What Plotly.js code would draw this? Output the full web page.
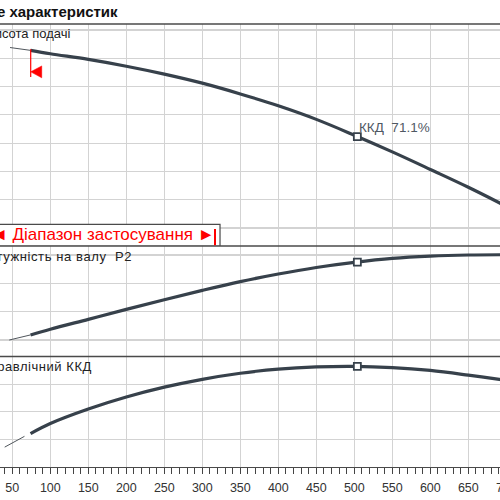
<!DOCTYPE html>
<html>
<head>
<meta charset="utf-8">
<script src="https://cdn.plot.ly/plotly-3.0.1.min.js"></script>
<style>
  html, body { margin: 0; padding: 0; width: 500px; height: 500px; overflow: hidden; background: #fff; }
  /* the reference is a crop of a wider sheet: the chart is drawn a bit wider
     than the window and the window clips it on both sides */
  #chart { position: absolute; left: -60px; top: 0; width: 600px; height: 500px; }
</style>
</head>
<body>
<div id="chart"></div>
<script>
// Pump curve sheet (head / shaft power / hydraulic efficiency vs flow).
// Values.
const flowQ = [74, 100, 150, 200, 250, 300, 350, 400, 450, 500, 550, 600, 650, 700, 720];
const headH = [36.4, 35.8, 34.8, 33.6, 32.2, 30.6, 28.7, 26.6, 24.2, 21.4, 18.45, 15.35, 12.2, 8.8, 7.3];
const powerP2 = [31.8, 33.8, 37.3, 40.8, 44.2, 47.5, 50.6, 53.3, 55.6, 57.4, 58.8, 59.6, 60.0, 60.1, 60.1];
const effEta = [24.2, 31.5, 42.0, 50.7, 57.8, 63.5, 67.9, 70.9, 72.5, 72.9, 72.0, 69.9, 66.5, 62.7, 61.0];

// thin lines below the minimum flow
const lowFlowHead = [47, 74];
const lowHead = [36.9, 36.4];
const lowFlowPower = [46, 74];
const lowPower = [30.0, 31.8];
const lowFlowEff = [40, 66];
const lowEff = [14.4, 22.2];

// best efficiency point
const bepQ = [504];
const bepH = [21.15];
const bepP2 = [57.5];
const bepEta = [72.9];
const bepText = "ККД  71.1%";

const minFlowQ = 74.2; // red min-flow marker
const rangeEndQ = 316.7; // red bar at the end of the range label

const CURVE = "#37414b";
const THIN = "#50565c";
const GRID = "#d3d3d3";
const FRAME = "#4a4a4a";
const RED = "#ff0000";
const FONT = "Liberation Sans, Arial, sans-serif";

// panel split (paper fractions), top -> bottom
const D_HEAD = [0.4989, 1];
const D_POWER = [0.2494, 0.4989];
const D_EFF = [0, 0.2494];

function curve(x, y, ya) {
  return { type: "scatter", mode: "lines", x, y, yaxis: ya, line: { color: CURVE, width: 3.2, shape: "spline", smoothing: 1 }, hoverinfo: "skip" };
}
function thin(x, y, ya) {
  return { type: "scatter", mode: "lines", x, y, yaxis: ya, line: { color: THIN, width: 1 }, hoverinfo: "skip" };
}
function bep(x, y, ya) {
  return {
    type: "scatter", mode: "markers", x, y, yaxis: ya,
    marker: { symbol: "square", size: 7, color: "#fff", line: { color: CURVE, width: 1.8 } },
    hoverinfo: "skip",
  };
}

const traces = [
  thin(lowFlowHead, lowHead, "y"),
  curve(flowQ, headH, "y"),
  bep(bepQ, bepH, "y"),
  thin(lowFlowPower, lowPower, "y2"),
  curve(flowQ, powerP2, "y2"),
  bep(bepQ, bepP2, "y2"),
  thin(lowFlowEff, lowEff, "y3"),
  curve(flowQ, effEta, "y3"),
  bep(bepQ, bepEta, "y3"),
];

const yBase = { showticklabels: false, ticks: "", showgrid: true, gridcolor: GRID, gridwidth: 1.2, zeroline: false, showline: false, fixedrange: true };

const hline = (y) => ({ type: "line", xref: "paper", yref: "paper", x0: 0, x1: 1, y0: y, y1: y, line: { color: FRAME, width: 1.3 } });

const shapes = [
  hline(D_HEAD[1]),
  hline(D_HEAD[0]),
  hline(D_POWER[0]),
  // "application range" label box, sits on the bottom of the head panel
  { type: "rect", xref: "x", yref: "y", x0: -20, x1: 323.3, y0: 1.85, y1: 5.65, fillcolor: "#fff", line: { color: FRAME, width: 1.2 }, layer: "above" },
  { type: "line", xref: "x", yref: "y", x0: rangeEndQ, x1: rangeEndQ, y0: 1.95, y1: 4.8, line: { color: RED, width: 2 } },
  // min-flow marker: red stem + left-pointing flag
  { type: "line", xref: "x", yref: "y", x0: minFlowQ, x1: minFlowQ, y0: 31.7, y1: 36.6, line: { color: RED, width: 1.2 } },
  { type: "path", xref: "x", yref: "y", path: `M ${minFlowQ} 32.6 L 88.7 33.65 L 88.7 31.55 Z`, fillcolor: RED, line: { color: RED, width: 0.5 } },
];

const label = (text, x, y, yref, extra) =>
  Object.assign({ text, x, y, xref: "x", yref, xanchor: "right", yanchor: "middle", showarrow: false, font: { family: FONT, size: 13, color: "#222" } }, extra || {});
// the sheet sets these two with a looser letter spacing
const spaced = (text, px) => `<span style="letter-spacing:${px}px">${text}</span>`;

const annotations = [
  label("<b>Поле характеристик</b>", 191.7, 1.0278, "paper", { font: { family: FONT, size: 15, color: "#111" } }),
  label("Висота подачі", 128.6, 39.3, "y"),
  label(spaced("Потужність на валу  P2", 0.6), 209.8, 59.4, "y2"),
  label(spaced("Гідравлічний ККД", 0.55), 157.5, 72.9, "y3"),
  label(bepText, 503.6, 22.85, "y", { xanchor: "left", font: { family: FONT, size: 13.5, color: "#4f5863" } }),
  label("◄ Діапазон застосування ►", 319.6, 3.85, "y", { font: { family: FONT, size: 17, color: RED } }),
];

const layout = {
  width: 600,
  height: 500,
  margin: { l: 30, r: 20, t: 24, b: 33 },
  paper_bgcolor: "#fff",
  plot_bgcolor: "#fff",
  showlegend: false,
  font: { family: FONT, color: "#333" },
  xaxis: {
    range: [-5.66, 718],
    anchor: "y3",
    tick0: 0,
    dtick: 50,
    ticks: "outside",
    ticklen: 6,
    tickcolor: "#444",
    ticklabelstandoff: 3,
    tickfont: { family: FONT, size: 12.5, color: "#333" },
    showgrid: true,
    gridcolor: GRID,
    gridwidth: 1.2,
    zeroline: false,
    showline: true,
    linecolor: FRAME,
    linewidth: 1.3,
    minor: { dtick: 10, ticks: "outside", ticklen: 6, tickcolor: "#444", showgrid: false },
    fixedrange: true,
  },
  yaxis: Object.assign({}, yBase, { domain: D_HEAD, range: [1.817, 41.06], tick0: 0, dtick: 5 }),
  yaxis2: Object.assign({}, yBase, { domain: D_POWER, range: [24.18, 63.18], tick0: 0, dtick: 10 }),
  yaxis3: Object.assign({}, yBase, { domain: D_EFF, range: [0, 80], tick0: 0, dtick: 20 }),
  shapes,
  annotations,
};

Plotly.newPlot("chart", traces, layout, { staticPlot: true, displayModeBar: false });
</script>
</body>
</html>
